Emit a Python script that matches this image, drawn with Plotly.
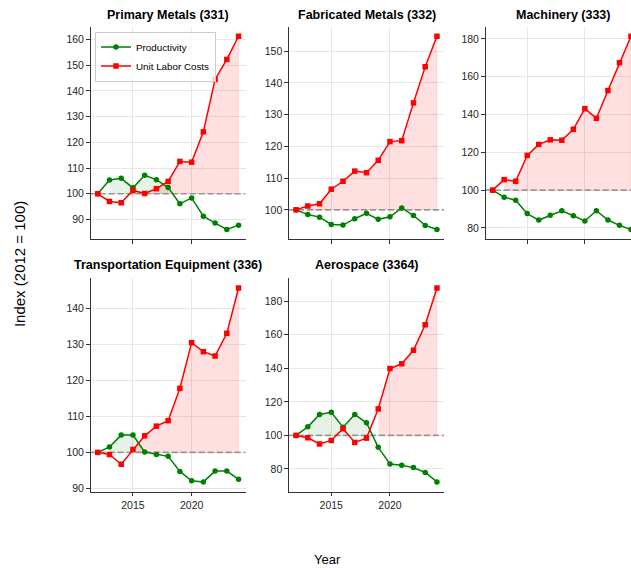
import plotly.graph_objects as go

# Index values, 2012 = 100
years = list(range(2012, 2025))

industries = [
    "Primary Metals (331)",
    "Fabricated Metals (332)",
    "Machinery (333)",
    "Transportation Equipment (336)",
    "Aerospace (3364)",
]

productivity_331 = [100, 105.4, 106.0, 102.3, 107.2, 105.5, 102.4, 96.1, 98.4, 91.3, 88.6, 86.1, 87.8]
ulc_331 = [100, 97.0, 96.5, 101.3, 100.1, 102.0, 104.8, 112.6, 112.3, 124.1, 144.5, 152.3, 161.3]

productivity_332 = [100, 98.5, 97.7, 95.4, 95.2, 97.2, 98.9, 97.0, 97.8, 100.6, 98.2, 95.1, 93.8]
ulc_332 = [100, 101.2, 101.9, 106.5, 109.0, 112.2, 111.7, 115.6, 121.5, 121.8, 133.7, 145.1, 154.7]

productivity_333 = [100, 96.3, 94.7, 87.6, 84.2, 86.7, 89.1, 86.5, 83.7, 89.1, 84.2, 81.4, 79.2]
ulc_333 = [100, 105.6, 104.7, 118.4, 124.2, 126.6, 126.4, 132.2, 143.1, 138.0, 152.7, 167.4, 181.4]

productivity_336 = [100, 101.5, 104.8, 104.8, 100.1, 99.4, 98.9, 94.7, 92.1, 91.8, 94.8, 94.8, 92.5]
ulc_336 = [100, 99.4, 96.7, 100.8, 104.6, 107.3, 108.8, 117.8, 130.5, 128.0, 126.8, 133.1, 145.7]

productivity_3364 = [100, 105.1, 112.5, 113.8, 104.9, 112.5, 107.5, 92.9, 83.0, 82.2, 80.8, 77.9, 72.3]
ulc_3364 = [100, 98.6, 94.9, 97.0, 104.0, 95.8, 98.4, 115.8, 139.9, 142.7, 150.8, 166.0, 187.9]

productivity = [productivity_331, productivity_332, productivity_333, productivity_336, productivity_3364]
unit_labor_costs = [ulc_331, ulc_332, ulc_333, ulc_336, ulc_3364]

BASE = 100
W, H = 631, 571
FONT = "Liberation Sans, Arial, sans-serif"
GREEN = "#008000"
RED = "#ff0000"
GREEN_FILL = "rgba(0,128,0,0.10)"
RED_FILL = "rgba(255,0,0,0.12)"
AX_COLOR = "#333333"
GRID = "#e6e6e6"

# Panel placement in pixels: (left, right, top, bottom)
panels_px = [
    (90.7, 245.6, 26.7, 240.0),
    (289.0, 444.0, 26.7, 240.0),
    (485.7, 631.0, 26.7, 240.0),
    (90.7, 245.6, 279.3, 493.3),
    (289.0, 444.0, 279.3, 493.3),
]
x_ranges = [
    [2011.4, 2024.6],
    [2011.4, 2024.6],
    [2011.4, 2024.0],
    [2011.4, 2024.6],
    [2011.4, 2024.6],
]
y_dticks = [10, 10, 20, 10, 20]
title_centers_px = [168, 366.5, 563, 168, 366.5]
title_y_px = [15, 15, 15, 266, 266]


def runs_above(values, base):
    """Consecutive index runs where the series sits above the base."""
    out, cur = [], []
    for i, v in enumerate(values):
        if v > base:
            cur.append(i)
        else:
            if len(cur) > 1:
                out.append(cur)
            cur = []
    if len(cur) > 1:
        out.append(cur)
    return out


fig = go.Figure()
layout_axes = {}
annotations = []

for k in range(5):
    n = k + 1
    xa = "x" if n == 1 else f"x{n}"
    ya = "y" if n == 1 else f"y{n}"
    prod = productivity[k]
    ulc = unit_labor_costs[k]

    # shaded regions above the base index
    for series, fillc in ((prod, GREEN_FILL), (ulc, RED_FILL)):
        for run in runs_above(series, BASE):
            xs = [years[i] for i in run] + [years[i] for i in reversed(run)]
            ys = [series[i] for i in run] + [BASE] * len(run)
            fig.add_trace(go.Scatter(
                x=xs, y=ys, mode="lines", fill="toself", fillcolor=fillc,
                line=dict(color=fillc, width=0.8), hoverinfo="skip",
                showlegend=False, xaxis=xa, yaxis=ya,
            ))

    # base reference line
    fig.add_trace(go.Scatter(
        x=[x_ranges[k][0], x_ranges[k][1]], y=[BASE, BASE], mode="lines",
        line=dict(color="rgba(128,128,128,0.75)", width=1.6, dash="6px,3px"),
        hoverinfo="skip", showlegend=False, xaxis=xa, yaxis=ya,
    ))

    fig.add_trace(go.Scatter(
        x=years, y=prod, mode="lines+markers", name="Productivity",
        line=dict(color=GREEN, width=1.5),
        marker=dict(symbol="circle", size=5.5, color=GREEN),
        showlegend=(k == 0), legendgroup="prod", cliponaxis=False,
        xaxis=xa, yaxis=ya,
    ))
    fig.add_trace(go.Scatter(
        x=years, y=ulc, mode="lines+markers", name="Unit Labor Costs",
        line=dict(color=RED, width=1.5),
        marker=dict(symbol="square", size=5.5, color=RED),
        showlegend=(k == 0), legendgroup="ulc", cliponaxis=False,
        xaxis=xa, yaxis=ya,
    ))

    lo = min(min(prod), min(ulc))
    hi = max(max(prod), max(ulc))
    pad = (hi - lo) * 0.05
    left, right, top, bottom = panels_px[k]

    xkey = "xaxis" if n == 1 else f"xaxis{n}"
    ykey = "yaxis" if n == 1 else f"yaxis{n}"
    layout_axes[xkey] = dict(
        domain=[left / W, min(right / W, 1.0)], anchor=ya,
        range=x_ranges[k], tick0=2015, dtick=5,
        showticklabels=(k >= 3), ticks="outside", ticklen=3.5, tickwidth=1,
        tickcolor=AX_COLOR, showline=True, linecolor=AX_COLOR, linewidth=1.25,
        showgrid=True, gridcolor=GRID, gridwidth=1, zeroline=False,
        tickfont=dict(family=FONT, size=10.5, color="#262626"),
    )
    layout_axes[ykey] = dict(
        domain=[1 - bottom / H, 1 - top / H], anchor=xa,
        range=[lo - pad, hi + pad], dtick=y_dticks[k], tick0=0,
        ticks="outside", ticklen=3.5, tickwidth=1, tickcolor=AX_COLOR,
        showline=True, linecolor=AX_COLOR, linewidth=1.25,
        showgrid=True, gridcolor=GRID, gridwidth=1, zeroline=False,
        tickfont=dict(family=FONT, size=10.5, color="#262626"),
    )

    annotations.append(dict(
        text=f"<b>{industries[k]}</b>", xref="paper", yref="paper",
        x=title_centers_px[k] / W, y=1 - title_y_px[k] / H,
        xanchor="center", yanchor="middle", showarrow=False,
        font=dict(family=FONT, size=12.5, color="#000000"),
    ))

annotations.append(dict(
    text="Year", xref="paper", yref="paper", x=327 / W, y=1 - 561.7 / H,
    xanchor="center", yanchor="middle", showarrow=False,
    font=dict(family=FONT, size=13, color="#000000"),
))
annotations.append(dict(
    text="Index (2012 = 100)", xref="paper", yref="paper", x=19 / W, y=1 - 265 / H,
    xanchor="center", yanchor="middle", showarrow=False, textangle=-90,
    font=dict(family=FONT, size=15, color="#000000"),
))

fig.update_layout(
    width=W, height=H,
    margin=dict(l=0, r=0, t=0, b=0),
    paper_bgcolor="white", plot_bgcolor="white",
    annotations=annotations,
    legend=dict(
        x=95 / W, y=1 - 31.7 / H, xanchor="left", yanchor="top",
        bgcolor="rgba(255,255,255,0.8)", bordercolor="#cccccc", borderwidth=1,
        font=dict(family=FONT, size=9.8, color="#000000"),
        tracegroupgap=0, itemwidth=30,
    ),
    **layout_axes,
)

fig.write_html("out.html")
